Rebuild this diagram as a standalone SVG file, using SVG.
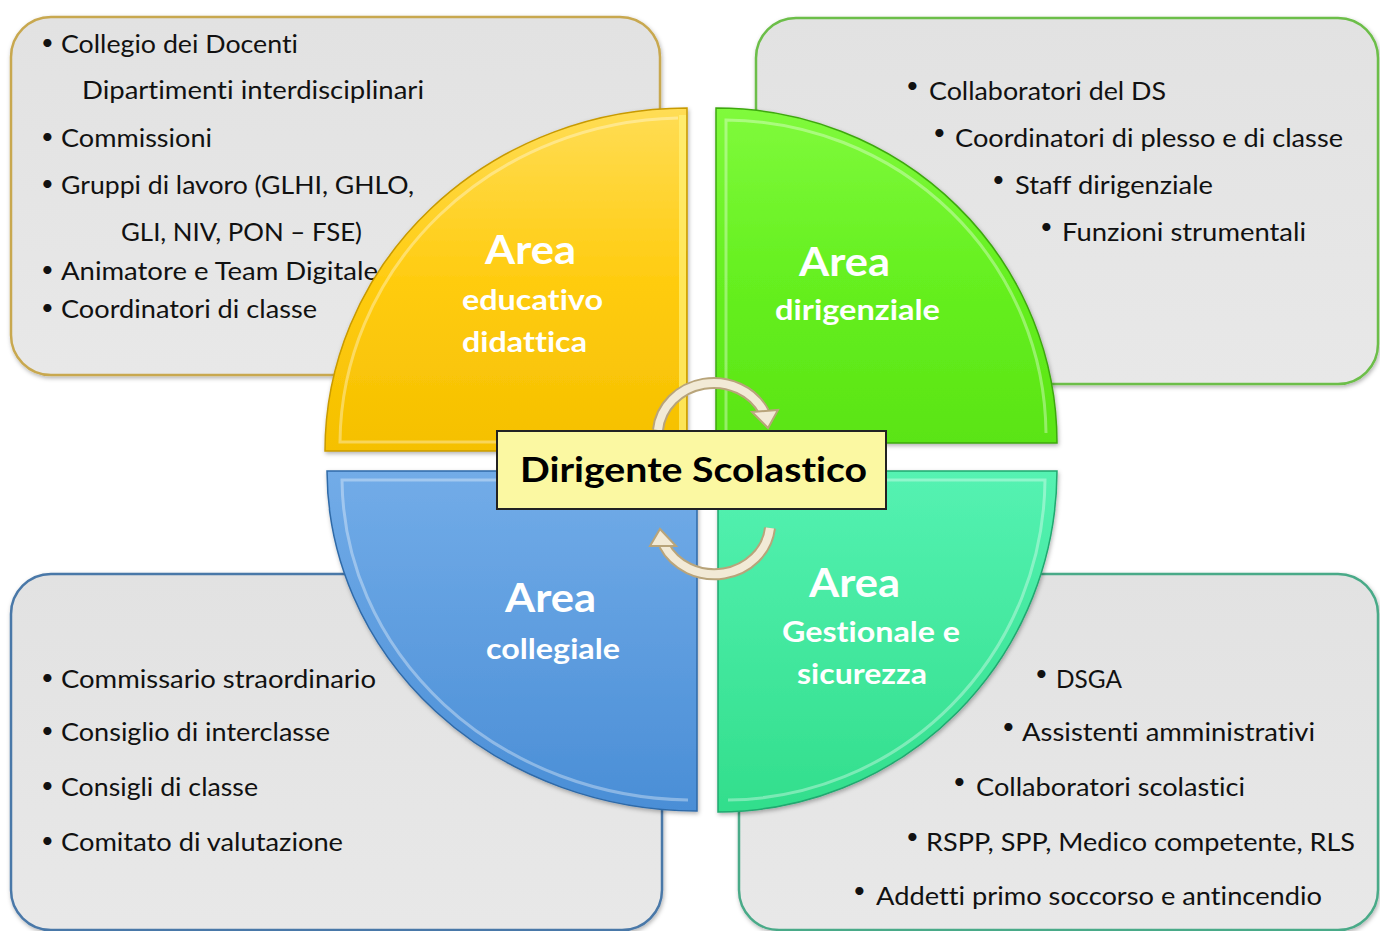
<svg xmlns="http://www.w3.org/2000/svg" width="1380" height="931" viewBox="0 0 1380 931">
<defs>
<linearGradient id="gY" x1="0" y1="0" x2="0" y2="1"><stop offset="0" stop-color="#FFDD55"/><stop offset="0.5" stop-color="#FFCC10"/><stop offset="1" stop-color="#F5C000"/></linearGradient>
<linearGradient id="gG" x1="0" y1="0" x2="0" y2="1"><stop offset="0" stop-color="#80FA3C"/><stop offset="0.5" stop-color="#66F020"/><stop offset="1" stop-color="#5AE414"/></linearGradient>
<linearGradient id="gB" x1="0" y1="0" x2="0" y2="1"><stop offset="0" stop-color="#72ACE8"/><stop offset="1" stop-color="#4A8ED6"/></linearGradient>
<linearGradient id="gT" x1="0" y1="0" x2="0" y2="1"><stop offset="0" stop-color="#55F2B2"/><stop offset="1" stop-color="#32DE8C"/></linearGradient>
<linearGradient id="gP" x1="0" y1="0" x2="0" y2="1"><stop offset="0" stop-color="#E2E2E2"/><stop offset="1" stop-color="#E8E8E8"/></linearGradient>
<filter id="sh" x="-5%" y="-5%" width="110%" height="110%"><feDropShadow dx="1" dy="2" stdDeviation="2" flood-color="#000" flood-opacity="0.3"/></filter>
</defs>
<style>
text{font-variant-ligatures:none;font-feature-settings:"liga" 0,"clig" 0}
.panel{fill:url(#gP);stroke-width:2.5}
.t{font-family:Lato,"Open Sans",sans-serif;font-size:25px;fill:#111}
.b{font-family:Lato,"Open Sans",sans-serif;font-size:22px;fill:#111}
.big{font-family:Lato,"Open Sans",sans-serif;font-weight:bold;font-size:40px;fill:#fff}
.sub{font-family:Lato,"Open Sans",sans-serif;font-weight:bold;font-size:28px;fill:#fff}
.bev{fill:none;stroke:#fff;stroke-opacity:0.35;stroke-width:3}
.edge{stroke-width:1.5}
.arr{fill:none;stroke:#B8A47A;stroke-width:12}
.arrIn{fill:none;stroke:#F2EAD6;stroke-width:8}
</style>
<rect width="1380" height="931" fill="#fff"/>

<g id="panel-educativo">
<rect class="panel" x="11" y="17" width="649" height="358" rx="40" stroke="#C8A850" filter="url(#sh)"/>
<text class="b" x="41" y="50">•</text><text class="t" x="61" y="53" textLength="237" lengthAdjust="spacingAndGlyphs">Collegio dei Docenti</text>
<text class="t" x="82" y="99" textLength="342" lengthAdjust="spacingAndGlyphs">Dipartimenti interdisciplinari</text>
<text class="b" x="41" y="144">•</text><text class="t" x="61" y="147" textLength="151" lengthAdjust="spacingAndGlyphs">Commissioni</text>
<text class="b" x="41" y="191">•</text><text class="t" x="61" y="194" textLength="353" lengthAdjust="spacingAndGlyphs">Gruppi di lavoro (GLHI, GHLO,</text>
<text class="t" x="121" y="241" textLength="241" lengthAdjust="spacingAndGlyphs">GLI, NIV, PON – FSE)</text>
<text class="b" x="41" y="277">•</text><text class="t" x="61" y="280" textLength="317" lengthAdjust="spacingAndGlyphs">Animatore e Team Digitale</text>
<text class="b" x="41" y="315">•</text><text class="t" x="61" y="318" textLength="256" lengthAdjust="spacingAndGlyphs">Coordinatori di classe</text>
</g>

<g id="panel-dirigenziale">
<rect class="panel" x="756" y="18" width="622" height="366" rx="40" stroke="#6CBE48" filter="url(#sh)"/>
<text class="b" x="906" y="93">•</text><text class="t" x="929" y="100" textLength="237" lengthAdjust="spacingAndGlyphs">Collaboratori del DS</text>
<text class="b" x="933" y="140">•</text><text class="t" x="955" y="147" textLength="388" lengthAdjust="spacingAndGlyphs">Coordinatori di plesso e di classe</text>
<text class="b" x="992" y="187">•</text><text class="t" x="1015" y="194" textLength="198" lengthAdjust="spacingAndGlyphs">Staff dirigenziale</text>
<text class="b" x="1040" y="234">•</text><text class="t" x="1062" y="241" textLength="244" lengthAdjust="spacingAndGlyphs">Funzioni strumentali</text>
</g>

<g id="panel-collegiale">
<rect class="panel" x="11" y="574" width="651" height="356" rx="40" stroke="#4A78A8" filter="url(#sh)"/>
<text class="b" x="41" y="685">•</text><text class="t" x="61" y="688" textLength="315" lengthAdjust="spacingAndGlyphs">Commissario straordinario</text>
<text class="b" x="41" y="738">•</text><text class="t" x="61" y="741" textLength="269" lengthAdjust="spacingAndGlyphs">Consiglio di interclasse</text>
<text class="b" x="41" y="793">•</text><text class="t" x="61" y="796" textLength="197" lengthAdjust="spacingAndGlyphs">Consigli di classe</text>
<text class="b" x="41" y="848">•</text><text class="t" x="61" y="851" textLength="282" lengthAdjust="spacingAndGlyphs">Comitato di valutazione</text>
</g>

<g id="panel-gestionale">
<rect class="panel" x="739" y="574" width="639" height="356" rx="40" stroke="#4AAA88" filter="url(#sh)"/>
<text class="b" x="1035" y="681">•</text><text class="t" x="1056" y="688" textLength="66" lengthAdjust="spacingAndGlyphs">DSGA</text>
<text class="b" x="1002" y="734">•</text><text class="t" x="1022" y="741" textLength="293" lengthAdjust="spacingAndGlyphs">Assistenti amministrativi</text>
<text class="b" x="953" y="789">•</text><text class="t" x="976" y="796" textLength="269" lengthAdjust="spacingAndGlyphs">Collaboratori scolastici</text>
<text class="b" x="906" y="844">•</text><text class="t" x="926" y="851" textLength="429" lengthAdjust="spacingAndGlyphs">RSPP, SPP, Medico competente, RLS</text>
<text class="b" x="853" y="898">•</text><text class="t" x="876" y="905" textLength="446" lengthAdjust="spacingAndGlyphs">Addetti primo soccorso e antincendio</text>
</g>

<g id="area-educativo">
<path d="M687,451 L325,451 A362,343 0 0 1 687,108 Z" fill="url(#gY)" stroke="#C89A00" class="edge" filter="url(#sh)"/>
<path class="bev" d="M678,442 L340,442 A345,327 0 0 1 678,118"/>
<rect x="679" y="115" width="7" height="333" fill="#FFF27A" opacity="0.7"/>
<text class="big" x="485" y="264" textLength="91" lengthAdjust="spacingAndGlyphs">Area</text>
<text class="sub" x="462" y="310" textLength="141" lengthAdjust="spacingAndGlyphs">educativo</text>
<text class="sub" x="462" y="352" textLength="125" lengthAdjust="spacingAndGlyphs">didattica</text>
</g>

<g id="area-dirigenziale">
<path d="M716,443 L716,108 A341,335 0 0 1 1057,443 Z" fill="url(#gG)" stroke="#3EA810" class="edge" filter="url(#sh)"/>
<path class="bev" d="M726,433 L726,120 A322,316 0 0 1 1046,433"/>
<text class="big" x="799" y="276" textLength="91" lengthAdjust="spacingAndGlyphs">Area</text>
<text class="sub" x="775" y="320" textLength="165" lengthAdjust="spacingAndGlyphs">dirigenziale</text>
</g>

<g id="area-collegiale">
<path d="M697,471 L327,471 A370,341 0 0 0 697,811 Z" fill="url(#gB)" stroke="#2F6AA8" class="edge" filter="url(#sh)"/>
<path class="bev" d="M688,480 L342,480 A352,323 0 0 0 688,800"/>
<text class="big" x="505" y="612" textLength="91" lengthAdjust="spacingAndGlyphs">Area</text>
<text class="sub" x="486" y="659" textLength="134" lengthAdjust="spacingAndGlyphs">collegiale</text>
</g>

<g id="area-gestionale">
<path d="M718,471 L1057,471 A339,342 0 0 1 718,812 Z" fill="url(#gT)" stroke="#20A870" class="edge" filter="url(#sh)"/>
<path class="bev" d="M728,480 L1045,480 A320,323 0 0 1 728,800"/>
<text class="big" x="809" y="597" textLength="91" lengthAdjust="spacingAndGlyphs">Area</text>
<text class="sub" x="782" y="642" textLength="178" lengthAdjust="spacingAndGlyphs">Gestionale e</text>
<text class="sub" x="797" y="684" textLength="130" lengthAdjust="spacingAndGlyphs">sicurezza</text>
</g>

<g id="connectors">
<path class="arr" d="M658,430 A56,52 0 0 1 764,412"/>
<path class="arrIn" d="M658,430 A56,52 0 0 1 764,412"/>
<polygon points="752,412 778,410 768,428" fill="#F2EAD6" stroke="#B8A47A" stroke-width="2"/>
<path class="arr" d="M770,528 A56,52 0 0 1 664,545"/>
<path class="arrIn" d="M770,528 A56,52 0 0 1 664,545"/>
<polygon points="676,546 650,546 660,529" fill="#F2EAD6" stroke="#B8A47A" stroke-width="2"/>
</g>

<g id="dirigente">
<rect x="497" y="431" width="389" height="78" fill="#FBF8A2" stroke="#222" stroke-width="2"/>
<text x="520" y="482" font-family="Lato,'Open Sans',sans-serif" font-weight="bold" font-size="35" fill="#000" textLength="347" lengthAdjust="spacingAndGlyphs">Dirigente Scolastico</text>
</g>
</svg>
